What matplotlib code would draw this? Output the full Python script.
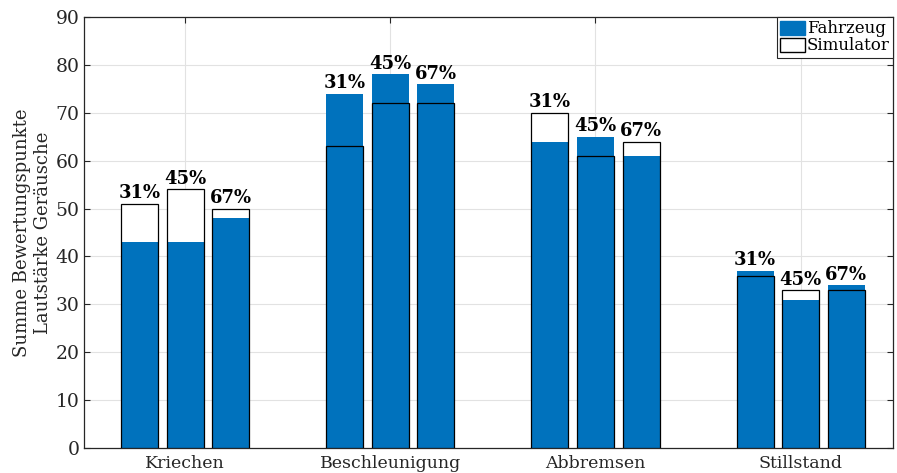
import matplotlib
matplotlib.use("Agg")
import matplotlib.pyplot as plt
import numpy as np
from matplotlib.patches import Patch

categories = ["Kriechen", "Beschleunigung", "Abbremsen", "Stillstand"]
shares = ["31%", "45%", "67%"]
fahrzeug = [[43, 43, 48], [74, 78, 76], [64, 65, 61], [37, 31, 34]]
simulator = [[51, 54, 50], [63, 72, 72], [70, 61, 64], [36, 33, 33]]
y_ticks = list(range(0, 91, 10))

plt.rcParams["font.family"] = ["DejaVu Serif"]
axis_color = "#262626"
blue = "#0072BD"

fig = plt.figure(figsize=(8.97, 4.73), dpi=100)
ax = fig.add_axes([84 / 897, 1 - 448 / 473, (893 - 84) / 897, (448 - 17) / 473])

x = np.arange(1, len(categories) + 1)
offsets = [-0.222, 0.0, 0.222]
width = 0.18

for j, off in enumerate(offsets):
    f = [row[j] for row in fahrzeug]
    s = [row[j] for row in simulator]
    ax.bar(x + off, s, width, color="white", edgecolor="none", zorder=2)
    ax.bar(x + off, f, width, color=blue, edgecolor="none", zorder=3)
    ax.bar(x + off, s, width, facecolor="none", edgecolor="black", linewidth=0.9, zorder=4)
    for xi, fi, si in zip(x, f, s):
        ax.text(xi + off, max(fi, si) + 0.3, shares[j], ha="center", va="bottom",
                fontsize=13, fontweight="bold", color="black", zorder=5)

ax.set_xlim(0.507, 4.45)
ax.set_ylim(0, 90)
ax.set_xticks(x)
ax.set_xticklabels(categories, fontsize=12.5)
ax.set_yticks(y_ticks)
ax.set_yticklabels([str(t) for t in y_ticks], fontsize=13.5)
ax.tick_params(direction="in", length=4, width=0.8, colors=axis_color,
               top=True, right=True, labelcolor=axis_color, pad=3)
ax.tick_params(axis="x", pad=5)
for sp in ax.spines.values():
    sp.set_color(axis_color)
    sp.set_linewidth(0.9)
ax.grid(True, color="#e2e2e2", linewidth=0.8, zorder=0)
ax.set_axisbelow(True)

ax.set_ylabel("Summe Bewertungspunkte\nLautstärke Geräusche", fontsize=13,
              color=axis_color, linespacing=1.2, labelpad=3)

handles = [Patch(facecolor=blue, edgecolor=blue, label="Fahrzeug"),
           Patch(facecolor="white", edgecolor="black", label="Simulator")]
leg = ax.legend(handles=handles, loc="upper right", fontsize=12,
                frameon=True, fancybox=False, borderaxespad=0.0,
                handlelength=1.5, handleheight=0.9, handletextpad=0.1,
                borderpad=0.2, labelspacing=0.0)
leg.get_frame().set_edgecolor(axis_color)
leg.get_frame().set_linewidth(0.8)
leg.get_frame().set_alpha(1)

fig.savefig("out.png", dpi=100)
